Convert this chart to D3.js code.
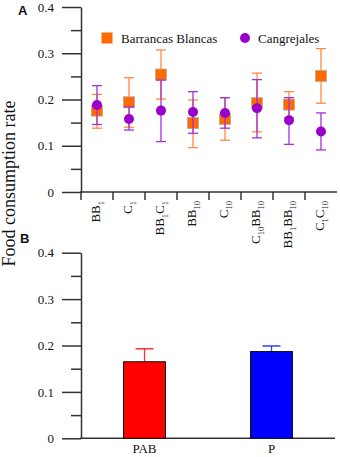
<!DOCTYPE html>
<html><head><meta charset="utf-8">
<script src="https://cdn.jsdelivr.net/npm/d3@7"></script>
<style>
html,body{margin:0;padding:0;background:#fff;}
svg{display:block;}
text{font-family:"Liberation Serif","Times New Roman",serif;fill:#111;}
</style></head>
<body>
<svg id="chart" width="340" height="457"></svg>
<script>
// ---- Data ----
const categoriesA = ["BB_{1}", "C_{1}", "BB_{1}C_{1}", "BB_{10}", "C_{10}", "C_{10}BB_{10}", "BB_{1}BB_{10}", "C_{1}C_{10}"];
const seriesNames = ["Barrancas Blancas", "Cangrejales"];
const bbMean  = [0.176, 0.194, 0.254, 0.149, 0.158, 0.192, 0.189, 0.251];
const bbUpper = [0.211, 0.247, 0.307, 0.199, 0.204, 0.257, 0.217, 0.310];
const bbLower = [0.138, 0.140, 0.201, 0.096, 0.112, 0.130, 0.161, 0.192];
const caMean  = [0.188, 0.158, 0.176, 0.173, 0.171, 0.181, 0.155, 0.131];
const caUpper = [0.230, 0.184, 0.242, 0.217, 0.204, 0.243, 0.204, 0.171];
const caLower = [0.146, 0.134, 0.109, 0.127, 0.138, 0.117, 0.103, 0.091];
const categoriesB = ["PAB", "P"];
const barMean  = [0.165, 0.187];
const barUpper = [0.193, 0.199];
const yTicks = [0, 0.1, 0.2, 0.3, 0.4];
const yMinorTicks = [0.05, 0.15, 0.25, 0.35];
const yTitle = "Food consumption rate";

// ---- Styles ----
const orange = "#ff6a00", orangeErr = "#ff8a3d";
const purple = "#9900cc", purpleErr = "#a431d6";
const barFill = ["#ff0000", "#0000ff"];
const barErr = ["#ff3030", "#3040ff"];
const axisColor = "#333";

const svg = d3.select("#chart");

// ---- Scales ----
const xA = d3.scaleBand().domain(categoriesA).range([81, 337]);
const yA = d3.scaleLinear().domain([0, 0.4]).range([192, 7]);
const xB = d3.scaleBand().domain(categoriesB).range([81, 335]).paddingInner(0.67).paddingOuter(0.335);
const yB = d3.scaleLinear().domain([0, 0.4]).range([438.3, 252.7]);

function styleAxis(g) {
  g.select(".domain").attr("stroke", axisColor).attr("stroke-width", 1.5);
  g.selectAll(".tick line").attr("stroke", axisColor).attr("stroke-width", 1.5);
  g.selectAll("text").style("font-family", "Liberation Serif, serif").style("font-size", "13px").attr("fill", "#111");
}

function drawYAxis(y) {
  const gMinor = svg.append("g").attr("transform", "translate(81,0)")
    .call(d3.axisLeft(y).tickValues(yMinorTicks).tickSize(10).tickFormat(""));
  styleAxis(gMinor);
  gMinor.select(".domain").remove();
  const g = svg.append("g").attr("transform", "translate(81,0)")
    .call(d3.axisLeft(y).tickValues(yTicks).tickSize(19).tickSizeOuter(0).tickPadding(8)
      .tickFormat(d => d === 0 ? "0" : d3.format(".1f")(d)));
  styleAxis(g);
}

// ---- Panel A ----
drawYAxis(yA);
// x axis A
svg.append("line").attr("x1", 80).attr("x2", 337).attr("y1", yA(0)).attr("y2", yA(0))
  .attr("stroke", axisColor).attr("stroke-width", 1.5);
svg.append("g").selectAll("line").data(categoriesA).join("line")
  .attr("x1", d => xA(d)).attr("x2", d => xA(d))
  .attr("y1", yA(0)).attr("y2", yA(0) + 8)
  .attr("stroke", axisColor).attr("stroke-width", 1.5);

function parseLabel(s) {
  const parts = [];
  const re = /([^_]+?)(?=_|$)|_\{([^}]*)\}/g;
  let m;
  while ((m = re.exec(s)) !== null) {
    if (m[1] !== undefined) parts.push({t: m[1], sub: false});
    else parts.push({t: m[2], sub: true});
  }
  return parts;
}

const xl = svg.append("g").selectAll("text").data(categoriesA).join("text")
  .attr("transform", d => `translate(${xA(d) + xA.bandwidth() / 2 - 1},201) rotate(-90)`)
  .attr("text-anchor", "end")
  .attr("dy", "0.32em")
  .style("font-size", "13px");
xl.each(function(d) {
  const t = d3.select(this);
  let shifted = false;
  parseLabel(d).forEach(p => {
    const ts = t.append("tspan").text(p.t);
    if (p.sub && !shifted) { ts.attr("dy", 4).style("font-size", "8.5px"); shifted = true; }
    else if (!p.sub && shifted) { ts.attr("dy", -4); shifted = false; }
    else if (p.sub) ts.style("font-size", "8.5px");
  });
});

function errorBars(mean, up, lo, color) {
  const g = svg.append("g").attr("stroke", color).attr("stroke-width", 1.3).attr("fill", "none");
  categoriesA.forEach((c, i) => {
    const cx = xA(c) + xA.bandwidth() / 2;
    g.append("line").attr("x1", cx).attr("x2", cx).attr("y1", yA(up[i])).attr("y2", yA(lo[i]));
    g.append("line").attr("x1", cx - 5).attr("x2", cx + 5).attr("y1", yA(up[i])).attr("y2", yA(up[i]));
    g.append("line").attr("x1", cx - 5).attr("x2", cx + 5).attr("y1", yA(lo[i])).attr("y2", yA(lo[i]));
  });
}
errorBars(bbMean, bbUpper, bbLower, orangeErr);
svg.append("g").selectAll("rect").data(categoriesA).join("rect")
  .attr("x", d => xA(d) + xA.bandwidth() / 2 - 5.5)
  .attr("y", (d, i) => yA(bbMean[i]) - 5.5)
  .attr("width", 11).attr("height", 11)
  .attr("fill", orange).attr("stroke", "#b8a89a").attr("stroke-width", 0.8);
errorBars(caMean, caUpper, caLower, purpleErr);
svg.append("g").selectAll("circle").data(categoriesA).join("circle")
  .attr("cx", d => xA(d) + xA.bandwidth() / 2)
  .attr("cy", (d, i) => yA(caMean[i]))
  .attr("r", 5).attr("fill", purple);

// legend
const leg = svg.append("g");
leg.append("rect").attr("x", 101.5).attr("y", 32.5).attr("width", 11).attr("height", 11).attr("fill", orange);
leg.append("text").attr("x", 121).attr("y", 42.5).style("font-size", "13px").text(seriesNames[0]);
leg.append("circle").attr("cx", 245).attr("cy", 38).attr("r", 5).attr("fill", purple);
leg.append("text").attr("x", 258).attr("y", 42.5).style("font-size", "13px").text(seriesNames[1]);

// panel labels
svg.append("text").attr("x", 18).attr("y", 14.5).style("font-family", "Liberation Sans, Arial, sans-serif")
  .style("font-weight", "bold").style("font-size", "13px").text("A");
svg.append("text").attr("x", 20).attr("y", 242.5).style("font-family", "Liberation Sans, Arial, sans-serif")
  .style("font-weight", "bold").style("font-size", "13px").text("B");

// y title
svg.append("text").attr("transform", "translate(15,183.5) rotate(-90)").attr("text-anchor", "middle")
  .style("font-size", "18px").text(yTitle);

// ---- Panel B ----
drawYAxis(yB);
svg.append("line").attr("x1", 80).attr("x2", 335).attr("y1", yB(0)).attr("y2", yB(0))
  .attr("stroke", axisColor).attr("stroke-width", 1.5);
categoriesB.forEach((c, i) => {
  const cx = xB(c) + xB.bandwidth() / 2;
  svg.append("line").attr("x1", cx).attr("x2", cx).attr("y1", yB(barUpper[i])).attr("y2", yB(barMean[i]))
    .attr("stroke", barErr[i]).attr("stroke-width", 1.3);
  svg.append("line").attr("x1", cx - 9).attr("x2", cx + 9).attr("y1", yB(barUpper[i])).attr("y2", yB(barUpper[i]))
    .attr("stroke", barErr[i]).attr("stroke-width", 1.5);
});
svg.append("g").selectAll("rect").data(categoriesB).join("rect")
  .attr("x", d => xB(d)).attr("width", xB.bandwidth())
  .attr("y", (d, i) => yB(barMean[i])).attr("height", (d, i) => yB(0) - yB(barMean[i]))
  .attr("fill", (d, i) => barFill[i]).attr("stroke", "#111").attr("stroke-width", 1);
svg.append("g").selectAll("text").data(categoriesB).join("text")
  .attr("x", d => xB(d) + xB.bandwidth() / 2).attr("y", 453).attr("text-anchor", "middle")
  .style("font-size", "13px").text(d => d);
</script>
</body></html>
